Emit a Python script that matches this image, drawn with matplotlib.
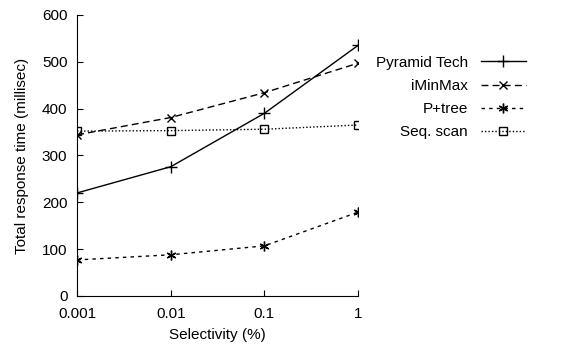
import matplotlib
matplotlib.use("Agg")
import matplotlib.pyplot as plt

plt.rcParams['font.family'] = ['Liberation Sans', 'DejaVu Sans']

selectivity = [0.001, 0.01, 0.1, 1]
pyramid = [220, 276, 390, 535]
iminmax = [344, 381, 434, 497]
ptree = [77, 88, 107, 179]
seqscan = [352, 353, 356, 365]

fig = plt.figure(figsize=(5.63, 3.47), dpi=100)
ax = fig.add_axes([0.137, 0.147, 0.499, 0.81])

ax.plot(selectivity, pyramid, color='black', lw=1, ls='-', marker='+', ms=8, mew=1, label='Pyramid Tech')
ax.plot(selectivity, iminmax, color='black', lw=1, ls=(0, (5, 3)), marker='x', ms=6, mew=1, label='iMinMax')
ax.plot(selectivity, ptree, color='black', lw=1, ls=(0, (2.5, 3)), marker=(6, 2, 0), ms=7, mew=1, label='P+tree')
ax.plot(selectivity, seqscan, color='black', lw=1, ls=(0, (1, 1.5)), marker='s', ms=6, mew=1,
        mfc='none', label='Seq. scan')

ax.set_xscale('log')
ax.set_xlim(0.001, 1)
ax.set_ylim(0, 600)
ax.set_xticks(selectivity)
ax.set_xticklabels(['0.001', '0.01', '0.1', '1'])
ax.set_yticks([0, 100, 200, 300, 400, 500, 600])
ax.minorticks_off()
ax.tick_params(direction='in', length=4, width=0.8, labelsize=11)
ax.tick_params(axis='x', pad=8)
ax.tick_params(axis='y', pad=7)
ax.spines['top'].set_visible(False)
ax.spines['right'].set_visible(False)
ax.set_xlabel('Selectivity (%)', fontsize=11, labelpad=5)
ax.set_ylabel('Total response time (millisec)', fontsize=11, labelpad=9)

fig.legend(loc='upper right', bbox_to_anchor=(0.945, 0.857), frameon=False, markerfirst=False,
           fontsize=11, handlelength=2.95, labelspacing=0.6, handletextpad=0.85, borderaxespad=0)

fig.savefig('out.png', dpi=100)
